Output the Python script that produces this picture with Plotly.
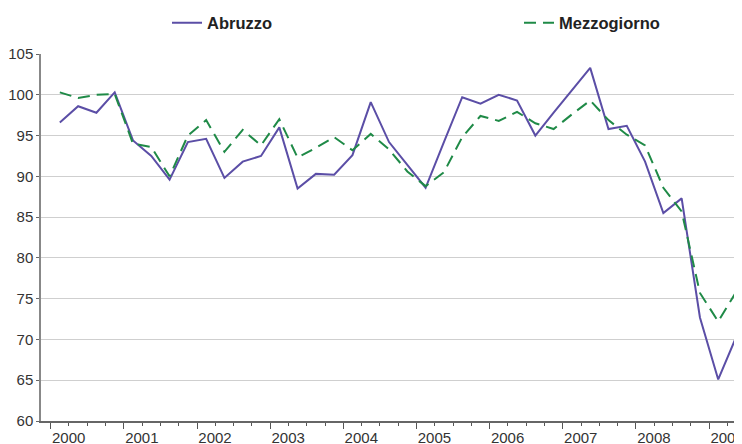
import plotly.graph_objects as go

years = list(range(2000, 2010))
quarters = [f"{y}Q{q}" for y in range(2000, 2010) for q in range(1, 5)][:38]

abruzzo = [96.6, 98.6, 97.8, 100.3,
           94.4, 92.5, 89.6, 94.2,
           94.6, 89.8, 91.8, 92.5,
           96.0, 88.5, 90.3, 90.2,
           92.6, 99.1, 94.2, 91.4,
           88.6, 94.2, 99.7, 98.9,
           100.0, 99.3, 95.0, 97.8,
           100.5, 103.3, 95.8, 96.2,
           91.8, 85.5, 87.3, 72.7,
           65.1, 70.4]

mezzogiorno = [100.3, 99.6, 100.0, 100.1,
               94.0, 93.6, 90.0, 95.0,
               96.9, 93.0, 95.7, 93.8,
               97.0, 92.3, 93.5, 94.8,
               93.2, 95.2, 93.3, 90.6,
               88.8, 90.5, 94.8, 97.4,
               96.8, 97.9, 96.5, 95.8,
               97.6, 99.3, 96.9, 95.1,
               93.8, 88.6, 85.7, 75.7,
               72.2, 75.9]

y_ticks = [60, 65, 70, 75, 80, 85, 90, 95, 100, 105]

xpos = [i + 0.5 for i in range(len(quarters))]

FONT = "Liberation Sans, Arial, sans-serif"

# the page body adds an 8px offset; the plot area is placed so that it ends at the window edge
W, H = 742, 436

fig = go.Figure()
fig.add_trace(go.Scatter(x=xpos, y=abruzzo, name="Abruzzo", mode="lines",
                         line=dict(color="#5b4ea6", width=2), text=quarters, legend="legend"))
fig.add_trace(go.Scatter(x=xpos, y=mezzogiorno, name="Mezzogiorno", mode="lines",
                         line=dict(color="#1f8a47", width=2, dash="12px,7px"), text=quarters,
                         legend="legend2"))

leg_common = dict(orientation="h", xref="container", yref="container",
                  y=1 - 15 / H, xanchor="left", yanchor="middle",
                  font=dict(size=16.5, color="#222222", family=FONT, weight="bold"),
                  bgcolor="rgba(0,0,0,0)", itemwidth=30)

fig.update_layout(
    width=W, height=H,
    margin=dict(l=33, r=8, t=46, b=23, pad=0, autoexpand=False),
    paper_bgcolor="white", plot_bgcolor="white",
    font=dict(family=FONT, size=15, color="#333333"),
    legend=dict(x=159 / W, **leg_common),
    legend2=dict(x=511 / W, **leg_common),
    showlegend=True,
)

fig.update_xaxes(
    range=[-0.53, 37.8],
    tickmode="array",
    tickvals=[4 * k for k in range(len(years))],
    ticktext=[str(y) for y in years],
    ticks="outside", ticklen=6, tickcolor="#555555", tickwidth=1,
    minor=dict(tickmode="linear", tick0=0, dtick=1, ticks="outside", ticklen=3, tickcolor="#555555", showgrid=False),
    ticklabelshift=18,
    ticklabelstandoff=-4,
    ticklabeloverflow="allow",
    showline=True, linecolor="#666666", linewidth=1.5,
    showgrid=False, zeroline=False,
    tickfont=dict(size=15, color="#333333"),
)
fig.update_yaxes(
    range=[60, 105],
    tickvals=y_ticks,
    ticks="outside", ticklen=3, tickcolor="#666666",
    showline=True, linecolor="#888888", linewidth=1.5,
    showgrid=True, gridcolor="#cfcfcf", gridwidth=1,
    zeroline=False,
    tickfont=dict(size=15, color="#333333"),
)

fig.write_html("out.html")
